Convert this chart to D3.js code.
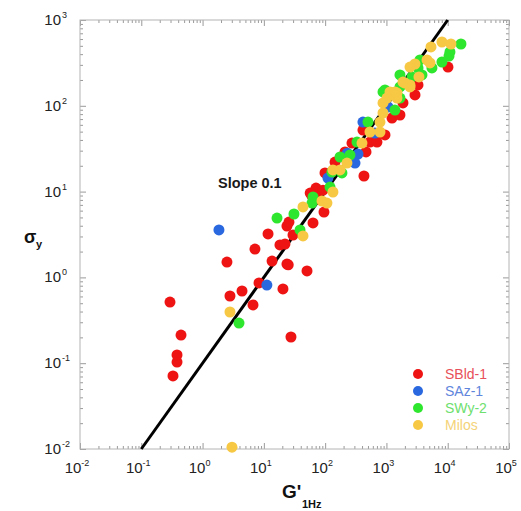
<!DOCTYPE html>
<html><head><meta charset="utf-8">
<script src="https://cdn.jsdelivr.net/npm/d3@7"></script>
<style>html,body{margin:0;padding:0;background:#fff;}</style>
</head><body>
<svg id="chart" width="521" height="511"></svg>
<script>
// ---- Data (G' at 1 Hz, sigma_y) ----
const seriesNames = ["SBld-1", "SAz-1", "SWy-2", "Milos"];
const seriesColors = ["#ee1414", "#2a68e0", "#2ee62e", "#f7c844"];
const legendTextColors = ["#e8505a", "#5f86dc", "#6ee06e", "#f4d378"];

const sbldG = [0.329,0.383,0.383,0.445,0.294,2.50,2.80,4.40,6.65,8.33,7.16,11.7,13.6,18.3,22.1,23.8,25.0,20.5,27.7,50.6,23.8,25.7,29.9,63.4,71.0,92.3,61.0,95.7,99.4,73.6,430,145,211,464,274,539,701,785,414,947,1233,1663,1862,2924,3273,10100,57.0];
const sbldS = [0.071,0.103,0.125,0.213,0.516,1.51,0.607,0.694,0.477,0.861,2.14,3.21,1.55,2.39,2.45,1.43,1.40,0.733,0.202,1.19,3.97,4.42,3.12,4.31,11.0,10.4,8.89,5.78,16.5,8.42,15.2,22.1,29.0,29.0,36.8,37.8,37.8,48.2,52.2,45.7,72.1,78.1,108,134,175,283,9.6];

const sazG = [1.85,11.2,111,307,344,650,414,1060,230];
const sazS = [3.57,0.815,14.4,21.5,27.4,48.2,64.7,96.8,28.0];

const swyG = [3.93,16.4,31.0,38.9,63.4,61.0,120,188,175,254,331,500,879,1377,1663,1663,2612,3273,3524,5534,8054,10490,10870,16450,1663,947,3802,129];
const swyS = [0.294,4.92,5.48,3.57,8.65,7.36,11.3,16.5,25.3,26.7,37.8,64.7,145,89.3,166,229,217,276,342,276,324,380,424,525,123,153,229,16.9];

const milosG = [3.02,2.80,43.5,43.5,88.8,107,134,134,175,227,399,539,785,785,879,879,1486,1143,1486,1862,2423,3396,2423,2924,4592,5140,5333,8054,11300,2008,1377,1021,2423];
const milosS = [0.0105,0.395,3.04,6.62,7.77,7.36,9.89,17.9,17.9,21.5,36.8,49.5,64.7,49.5,82.4,108,123,145,141,189,175,217,283,307,342,316,485,554,525,184,145,123,166];

const xTickExps = [-2,-1,0,1,2,3,4,5];
const yTickExps = [-2,-1,0,1,2,3];
const slopeLineG = [0.1, 1e4];
const slopeLineS = [0.01, 1e3];

// ---- Layout ----
const svg = d3.select("#chart");
const L = 80, R = 509, T = 20, B = 449;
const x = d3.scaleLog().domain([1e-2, 1e5]).range([L, R]);
const y = d3.scaleLog().domain([1e-2, 1e3]).range([B, T]);

const minorVals = (lo, hi) => {
  const v = [];
  for (let e = lo; e < hi; e++) for (let k = 2; k <= 9; k++) v.push(k * Math.pow(10, e));
  return v;
};
const xMinor = minorVals(-2, 5), yMinor = minorVals(-2, 3);
const xMajor = xTickExps.map(e => Math.pow(10, e));
const yMajor = yTickExps.map(e => Math.pow(10, e));

const tickCol = "#9a9a9a";
function styleAxis(g) {
  g.select(".domain").remove();
  g.selectAll("line").attr("stroke", tickCol).attr("stroke-width", 1);
}
// Bottom & top
[[d3.axisBottom, B, -1], [d3.axisTop, T, -1]].forEach(([fn, pos]) => {
  svg.append("g").attr("transform", `translate(0,${pos})`)
    .call(fn(x).tickValues(xMinor).tickSize(-3).tickFormat("")).call(styleAxis);
  svg.append("g").attr("transform", `translate(0,${pos})`)
    .call(fn(x).tickValues(xMajor).tickSize(-6).tickFormat("")).call(styleAxis);
});
[[d3.axisLeft, L], [d3.axisRight, R]].forEach(([fn, pos]) => {
  svg.append("g").attr("transform", `translate(${pos},0)`)
    .call(fn(y).tickValues(yMinor).tickSize(-3).tickFormat("")).call(styleAxis);
  svg.append("g").attr("transform", `translate(${pos},0)`)
    .call(fn(y).tickValues(yMajor).tickSize(-6).tickFormat("")).call(styleAxis);
});
svg.append("rect").attr("x", L).attr("y", T).attr("width", R - L).attr("height", B - T)
  .attr("fill", "none").attr("stroke", "#b4b4b4").attr("stroke-width", 1);

// Tick labels
const font = "Liberation Sans, Arial, sans-serif";
const xl = svg.append("g").attr("font-family", font).attr("fill", "#222");
xTickExps.forEach(e => {
  const t = xl.append("text").attr("x", x(Math.pow(10, e)) - 3).attr("y", 473)
    .attr("text-anchor", "middle").attr("font-size", 15);
  t.append("tspan").text("10");
  t.append("tspan").attr("dy", -7).attr("font-size", 9).text(e);
});
yTickExps.forEach(e => {
  const t = xl.append("text").attr("x", 61).attr("y", y(Math.pow(10, e)) + 5)
    .attr("text-anchor", "end").attr("font-size", 15);
  t.append("tspan").text("10");
  const ex = xl.append("text").attr("x", 62).attr("y", y(Math.pow(10, e)) - 2)
    .attr("font-size", 9).text(e);
});

// Axis titles
const xt = svg.append("text").attr("x", 282).attr("y", 498).attr("font-family", font)
  .attr("font-weight", "bold").attr("font-size", 19).attr("fill", "#111");
xt.append("tspan").text("G'");
svg.append("text").attr("x", 302).attr("y", 508).attr("font-family", font)
  .attr("font-weight", "bold").attr("font-size", 11).attr("fill", "#111").text("1Hz");
svg.append("text").attr("x", 24).attr("y", 243).attr("font-family", font)
  .attr("font-weight", "bold").attr("font-size", 18).attr("fill", "#111").text("σ");
svg.append("text").attr("x", 36).attr("y", 248).attr("font-family", font)
  .attr("font-weight", "bold").attr("font-size", 11).attr("fill", "#111").text("y");

// Slope line
svg.append("line")
  .attr("x1", x(slopeLineG[0])).attr("y1", y(slopeLineS[0]))
  .attr("x2", x(slopeLineG[1])).attr("y2", y(slopeLineS[1]))
  .attr("stroke", "#000").attr("stroke-width", 3);

svg.append("text").attr("x", 218).attr("y", 188).attr("font-family", font)
  .attr("font-weight", "bold").attr("font-size", 14.5).attr("fill", "#1a1a1a").text("Slope 0.1");

// Points
const allSeries = [[sbldG, sbldS], [sazG, sazS], [swyG, swyS], [milosG, milosS]];
allSeries.forEach(([gs, ss], i) => {
  svg.append("g").selectAll("circle")
    .data(gs.map((g, j) => [g, ss[j]]))
    .join("circle")
    .attr("cx", d => x(d[0])).attr("cy", d => y(d[1]))
    .attr("r", 5.5).attr("fill", seriesColors[i]);
});

// Legend
const lg = svg.append("g").attr("font-family", font);
seriesNames.forEach((n, i) => {
  const yy = 374 + i * 17;
  lg.append("circle").attr("cx", 418).attr("cy", yy).attr("r", 5).attr("fill", seriesColors[i]);
  lg.append("text").attr("x", 445).attr("y", yy + 5).attr("font-size", 14)
    .attr("fill", legendTextColors[i]).text(n);
});
</script>
</body></html>
